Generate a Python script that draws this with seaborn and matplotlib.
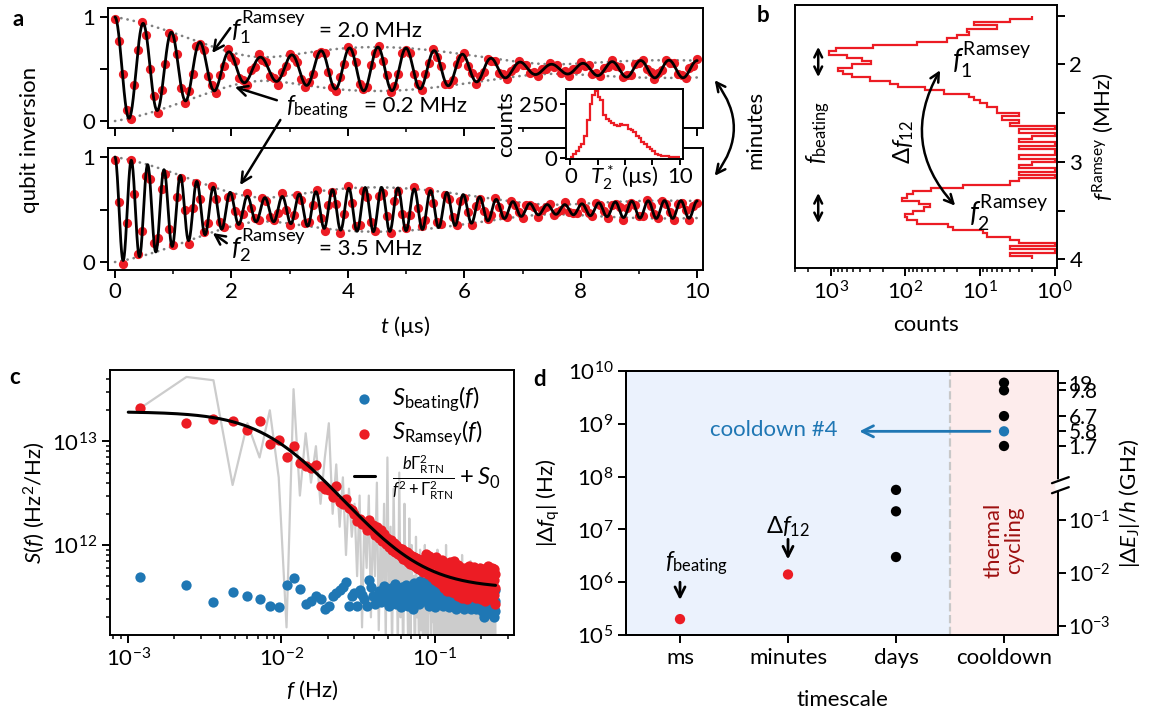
import numpy as np
import matplotlib
matplotlib.use("Agg")
import matplotlib.pyplot as plt
import seaborn as sns
from matplotlib.patches import FancyArrowPatch
from matplotlib.ticker import FixedLocator, FixedFormatter, NullLocator, LogLocator

# ---------------- panel a: Ramsey traces ----------------
t_us = np.arange(151) / 15.0   # sampling grid (µs)
ramsey_top = [
    0.98, 0.77, 0.45, 0.11, 0.02, 0.35, 0.68, 0.95, 0.83, 0.50, 0.24, 0.08, 0.30, 0.55, 0.85,
    0.80, 0.64, 0.32, 0.17, 0.29, 0.45, 0.72, 0.74, 0.68, 0.43, 0.35, 0.27, 0.44, 0.53, 0.69,
    0.62, 0.58, 0.41, 0.39, 0.35, 0.49, 0.52, 0.64, 0.59, 0.57, 0.43, 0.41, 0.35, 0.47, 0.53,
    0.64, 0.61, 0.57, 0.40, 0.33, 0.38, 0.45, 0.64, 0.66, 0.65, 0.47, 0.33, 0.29, 0.42, 0.55,
    0.71, 0.66, 0.57, 0.36, 0.31, 0.33, 0.54, 0.65, 0.72, 0.58, 0.44, 0.28, 0.34, 0.45, 0.65,
    0.68, 0.65, 0.45, 0.36, 0.30, 0.45, 0.56, 0.69, 0.62, 0.53, 0.36, 0.36, 0.39, 0.55, 0.61,
    0.65, 0.53, 0.46, 0.36, 0.43, 0.47, 0.60, 0.58, 0.58, 0.46, 0.45, 0.40, 0.48, 0.51, 0.58,
    0.54, 0.54, 0.46, 0.47, 0.43, 0.50, 0.50, 0.56, 0.52, 0.54, 0.46, 0.48, 0.43, 0.50, 0.50,
    0.57, 0.53, 0.54, 0.45, 0.46, 0.43, 0.51, 0.52, 0.59, 0.53, 0.52, 0.42, 0.44, 0.44, 0.55,
    0.56, 0.59, 0.50, 0.47, 0.40, 0.46, 0.49, 0.59, 0.56, 0.56, 0.45, 0.44, 0.41, 0.51, 0.53, 0.60]
ramsey_bot = [
    0.97, 0.57, -0.02, 0.37, 0.97, 0.65, 0.08, 0.30, 0.82, 0.79, 0.18, 0.23, 0.70, 0.84, 0.31,
    0.16, 0.62, 0.80, 0.50, 0.17, 0.51, 0.75, 0.60, 0.29, 0.37, 0.72, 0.60, 0.38, 0.33, 0.62,
    0.63, 0.49, 0.35, 0.46, 0.66, 0.51, 0.42, 0.40, 0.61, 0.58, 0.43, 0.40, 0.47, 0.66, 0.50,
    0.35, 0.45, 0.64, 0.59, 0.37, 0.38, 0.54, 0.69, 0.42, 0.30, 0.54, 0.67, 0.55, 0.28, 0.46,
    0.72, 0.56, 0.34, 0.35, 0.68, 0.62, 0.38, 0.30, 0.63, 0.66, 0.44, 0.28, 0.58, 0.68, 0.46,
    0.32, 0.45, 0.71, 0.51, 0.34, 0.40, 0.68, 0.56, 0.38, 0.36, 0.64, 0.60, 0.43, 0.35, 0.58,
    0.61, 0.48, 0.35, 0.53, 0.60, 0.49, 0.41, 0.45, 0.61, 0.52, 0.45, 0.43, 0.58, 0.54, 0.48,
    0.42, 0.54, 0.54, 0.52, 0.43, 0.50, 0.52, 0.55, 0.45, 0.48, 0.50, 0.57, 0.48, 0.47, 0.47,
    0.57, 0.51, 0.47, 0.44, 0.56, 0.54, 0.49, 0.42, 0.54, 0.55, 0.52, 0.40, 0.51, 0.56, 0.54,
    0.44, 0.44, 0.59, 0.53, 0.46, 0.42, 0.58, 0.55, 0.48, 0.40, 0.55, 0.56, 0.50, 0.40, 0.53, 0.56]
# two-tone fit parameters
F1_MHZ, F2_MHZ, FBEAT_MHZ = 2.0, 3.5, 0.2
AMP_MAIN, AMP_SIDE, T_DECAY = 0.34, 0.16, 5.5

# inset: T2* histogram
t2_edges = np.arange(0, 10.01, 0.25)
t2_counts = [5, 18, 30, 50, 62, 100, 175, 250, 290, 308, 280, 265, 200, 180, 170, 160,
             150, 145, 158, 150, 154, 135, 128, 120, 100, 90, 75, 62, 50, 40, 30, 20,
             14, 11, 9, 8, 6, 5, 4, 3]

# ---------------- panel b: histogram of f_Ramsey ----------------
fr_edges = np.linspace(1.5, 4.0, 76)
fr_counts = [2, 4, 12, 6, 15, 14, 20, 28, 70, 270,
             850, 1050, 600, 380, 290, 520, 800, 680, 520, 300,
             160, 125, 55, 30, 14, 12, 10, 8, 6, 6,
             3, 5, 3, 4, 1, 3, 1, 2, 3, 1,
             3, 1, 1, 3, 1, 2, 3, 1, 3, 1,
             3, 4, 17, 45, 80, 95, 110, 65, 47, 57,
             80, 102, 95, 70, 27, 23, 9, 8, 4, 3,
             1, 4, 1, 4, 2]

# ---------------- panel c: noise spectra (units of 1e11 Hz^2/Hz) ----------------
f_hz = 0.0012 * np.arange(1, 209)
s_ramsey = [
    212, 152, 166, 156, 128, 156, 94, 104, 70, 90,
    62, 58, 55, 59, 37, 35, 34, 29, 37, 26,
    25, 28, 23, 22, 20, 17, 18, 16, 16, 14,
    17.5, 14.0, 15.5, 12.6, 15.0, 11.8, 13.9, 11.0, 12.8, 10.2,
    11.8, 9.6, 11.2, 8.9, 10.5, 8.6, 10.0, 8.1, 9.4, 7.8,
    9.1, 7.4, 8.8, 7.1, 8.5, 6.8, 8.2, 6.6, 7.9, 6.4,
    7.7, 6.2, 7.5, 6.0, 7.3, 5.8, 7.1, 5.7, 6.9, 5.5,
    7.4, 5.6, 8.2, 5.9, 7.0, 5.2, 7.8, 5.5, 6.6, 4.9,
    7.3, 5.0, 6.8, 4.6, 7.6, 5.3, 6.4, 4.4, 7.0, 5.1,
    6.3, 4.2, 7.2, 4.8, 5.9, 3.8, 6.7, 4.6, 5.5, 3.6,
    6.5, 4.5, 5.8, 3.9, 6.9, 4.3, 5.4, 3.5, 6.2, 4.7,
    7.0, 4.0, 5.6, 3.4, 6.0, 4.4, 5.2, 3.2, 6.4, 4.1,
    5.5, 3.7, 6.1, 4.2, 5.0, 3.1, 5.8, 4.5, 4.0, 5.3,
    3.4, 6.0, 4.3, 4.9, 3.0, 5.6, 3.9, 5.1, 3.6, 6.3,
    4.2, 3.3, 5.4, 4.8, 3.8, 5.9, 3.2, 4.6, 5.2, 3.5,
    6.1, 4.0, 3.6, 5.0, 4.4, 3.1, 5.7, 3.9, 4.7, 3.3,
    5.5, 4.1, 3.4, 6.0, 3.8, 4.9, 3.0, 5.3, 4.3, 3.6,
    5.8, 3.9, 4.6, 3.2, 5.1, 4.4, 2.9, 5.6, 3.7, 4.8,
    3.3, 5.2, 4.0, 3.5, 6.2, 3.8, 4.5, 3.0, 5.0, 4.2,
    3.4, 5.7, 4.1, 3.6, 5.4, 4.7, 3.1, 6.0, 4.4, 3.5,
    5.1, 4.0, 3.3, 5.9, 4.6, 3.8, 5.3, 2.7]
s_beating = [
    4.9, 4.1, 2.8, 3.5, 3.2, 3.0, 2.6, 2.5, 4.1, 4.8,
    3.75, 2.7, 2.9, 3.2, 3.0, 2.4, 2.6, 3.2, 3.4, 3.7,
    3.9, 4.4, 2.6, 3.2, 3.4, 2.6, 3.7, 3.3, 3.0, 2.6,
    4.6, 3.9, 3.2, 2.7, 3.1, 3.6, 2.8, 3.3, 4.0, 2.9,
    3.5, 2.6, 3.8, 3.1, 3.4, 4.2, 2.7, 3.0, 3.6, 2.5,
    3.9, 3.3, 2.8, 4.1, 3.2, 2.6, 3.7, 3.0, 3.5, 2.4,
    4.3, 3.1, 2.9, 3.8, 3.4, 2.7, 4.5, 3.9, 3.2, 4.2,
    2.9, 3.6, 4.4, 3.0, 3.8, 4.1, 2.6, 3.4, 3.9, 2.8,
    4.3, 3.2, 3.7, 2.5, 3.5, 3.0, 3.9, 2.7, 3.3, 4.0,
    2.9, 3.6, 3.1, 2.6, 3.8, 3.2, 2.8, 3.5, 4.1, 2.7,
    3.3, 3.0, 3.7, 2.5, 3.4, 3.9, 2.9, 3.2, 2.6, 3.6,
    3.0, 4.0, 2.8, 3.3, 2.4, 3.5, 3.1, 2.7, 3.8, 3.0,
    2.6, 3.4, 2.9, 3.6, 2.5, 3.2, 2.8, 3.7, 3.0, 2.4,
    3.3, 2.9, 3.5, 2.7, 3.1, 2.6, 3.4, 3.0, 2.5, 3.6,
    2.8, 3.2, 2.4, 3.3, 2.9, 3.0, 2.6, 3.5, 2.8, 3.1,
    2.5, 3.3, 2.7, 3.0, 2.4, 3.4, 2.9, 2.6, 3.2, 2.8,
    2.5, 3.1, 2.7, 3.5, 2.6, 2.9, 3.2, 2.4, 3.0, 2.7,
    2.3, 3.3, 2.8, 2.6, 2.0, 3.0, 2.5, 2.8, 3.1, 2.4,
    2.7, 3.2, 2.6, 2.9, 2.3, 2.8, 3.0, 2.5, 2.7, 3.3,
    2.6, 2.4, 2.9, 3.1, 2.2, 2.7, 3.0, 2.5, 2.8, 2.1,
    2.6, 3.2, 2.4, 2.0, 2.7, 2.9, 2.3, 3.7]
s_raw = [
    210, 420, 390, 38, 150, 70, 200, 45, 1.6, 320,
    30, 120, 40, 90, 25, 70, 150, 20, 60, 15,
    45, 8, 35, 12, 25, 5, 30, 1.6, 18, 6,
    30, 2, 18, 5, 40, 1.5, 12, 3, 25, 1.2,
    70, 2.5, 15, 0.9, 35, 4, 9, 1.0, 50, 2.0,
    8, 0.7, 25, 3.0, 6, 1.1, 18, 0.8, 10, 2.5,
    5, 0.6, 12, 2.0, 4, 0.9, 9, 1.5, 6, 0.7,
    3.5, 10, 1.2, 5, 0.8, 7, 2.2, 4, 0.6, 8,
    1.8, 4.5, 0.9, 6, 2.5, 0.7, 9, 1.4, 3.8, 0.8,
    5.5, 2.0, 7, 0.6, 4, 1.6, 3, 0.9, 10, 1.2,
    4.5, 0.7, 6, 2.3, 3.2, 0.8, 5, 1.5, 7.5, 0.9,
    3.5, 1.8, 5.5, 0.6, 4.2, 2.5, 1.0, 6.5, 1.3, 3.8,
    0.7, 5, 2, 4, 0.9, 8, 1.6, 3, 0.6, 4.8,
    1.4, 3.6, 0.8, 6, 2.2, 0.7, 4.4, 1.8, 5.2, 0.9,
    3.2, 1.2, 7, 0.6, 4, 2.6, 0.8, 5.5, 1.5, 3.4,
    0.7, 6.2, 1.9, 3.8, 0.9, 4.6, 2.4, 0.6, 5.8, 1.3,
    3.0, 0.8, 4.5, 2.0, 6.5, 0.7, 3.6, 1.6, 4.8, 0.9,
    2.8, 5.2, 1.1, 3.9, 0.6, 4.3, 2.1, 0.8, 5.6, 1.4,
    3.3, 0.7, 4.0, 1.8, 6.0, 0.9, 2.9, 4.4, 0.6, 3.5,
    1.5, 5.0, 0.8, 3.2, 2.2, 0.7, 4.6, 1.2, 3.7, 0.9,
    5.4, 1.7, 0.6, 3.4, 2.5, 0.8, 4.1, 1.3]
S_UNIT = 1e11
FIT_B, FIT_GAMMA, FIT_S0 = 1.9e13, 0.0095, 3.8e11

# ---------------- panel d: frequency shifts per timescale ----------------
timescales = ["ms", "minutes", "days", "cooldown"]
d_scale = ["ms", "minutes", "days", "days", "days",
           "cooldown", "cooldown", "cooldown", "cooldown", "cooldown"]
d_shift_hz = [2.0e5, 1.4e6, 3.0e6, 2.2e7, 5.6e7, 3.8e8, 7.2e8, 1.4e9, 4.3e9, 6.0e9]
d_kind = ["fast", "fast", "other", "other", "other", "other", "cd4", "other", "other", "other"]
ej_ticks_hz = [6.0e9, 4.3e9, 1.4e9, 7.2e8, 3.8e8, 1.5e7, 1.48e6, 1.49e5]
ej_labels = ["19", "9.8", "6.7", "5.8", "1.7", r"$10^{-1}$", r"$10^{-2}$", r"$10^{-3}$"]

RED = "#ec1c24"
BLUE = "#1f77b4"

sns.set_style("ticks", rc={"axes.edgecolor": "black", "text.color": "black",
                           "xtick.color": "black", "ytick.color": "black",
                           "axes.labelcolor": "black"})
plt.rcParams["font.family"] = ["Lato", "DejaVu Sans"]
plt.rcParams["mathtext.fontset"] = "custom"
plt.rcParams["mathtext.rm"] = "Lato"
plt.rcParams["mathtext.it"] = "Lato:italic"
plt.rcParams["mathtext.bf"] = "Lato:bold"
plt.rcParams["mathtext.fallback"] = "stixsans"
plt.rcParams.update({"font.size": 16, "axes.labelsize": 16, "xtick.labelsize": 16,
                     "ytick.labelsize": 16, "axes.linewidth": 1.4,
                     "xtick.major.width": 1.4, "ytick.major.width": 1.4,
                     "xtick.major.size": 5.5, "ytick.major.size": 5.5,
                     "xtick.minor.size": 3, "ytick.minor.size": 3,
                     "xtick.minor.width": 1.1, "ytick.minor.width": 1.1,
                     "xtick.direction": "out", "ytick.direction": "out"})

W, H = 1160, 720
fig = plt.figure(figsize=(W / 100, H / 100), dpi=100)


def box(l, t, r, b):
    return fig.add_axes([l / W, 1 - b / H, (r - l) / W, (b - t) / H])


def fxy(px, py):
    return (px / W, 1 - py / H)


ax_a1 = box(108, 8, 703, 128)
ax_a2 = box(108, 148, 703, 270)
ax_in = box(566, 89, 683, 159)
ax_b = box(795, 5, 1057, 268)
ax_c = box(110, 370, 514, 635)
ax_d = box(626, 371, 1058, 635)

# ---- panel a ----
t_fine = np.linspace(0, 10, 3000)
for ax, vals, f0, ylim in [(ax_a1, ramsey_top, F1_MHZ, (-0.067, 1.087)),
                           (ax_a2, ramsey_bot, F2_MHZ, (-0.076, 1.086))]:
    decay = np.exp(-t_fine / T_DECAY)
    env = decay * np.sqrt(AMP_MAIN**2 + AMP_SIDE**2 +
                          2 * AMP_MAIN * AMP_SIDE * np.cos(2 * np.pi * FBEAT_MHZ * t_fine))
    fit = 0.5 + decay * (AMP_MAIN * np.cos(2 * np.pi * f0 * t_fine) +
                         AMP_SIDE * np.cos(2 * np.pi * (f0 + FBEAT_MHZ) * t_fine))
    for sgn in (1, -1):
        ax.plot(t_fine, 0.5 + sgn * env, color="#808080", lw=1.9,
                ls=(0, (0.1, 2.3)), dash_capstyle="round", zorder=1)
    sns.scatterplot(x=t_us, y=vals, color=RED, s=44, linewidth=0, ax=ax, zorder=2)
    sns.lineplot(x=t_fine, y=fit, color="k", linewidth=2.0, ax=ax, zorder=3, estimator=None)
    ax.set_xlim(-0.12, 10.1)
    ax.set_ylim(*ylim)
    ax.set_xticks([0, 2, 4, 6, 8, 10])
    ax.set_xticks(range(11), minor=True)
    ax.set_yticks([0, 0.5, 1])
    ax.set_yticklabels(["0", "", "1"])
ax_a1.set_xticklabels([])
ax_a2.set_xlabel(r"$t$ (µs)", labelpad=8)
fig.text(30 / W, 1 - 140 / H, "qubit inversion", rotation=90, ha="center", va="center", fontsize=16)

ax_a1.text(2.0, 0.80, r"$f_1^{\mathrm{Ramsey}}$", ha="left", va="baseline", fontsize=19)
ax_a1.text(3.5, 0.81, "= 2.0 MHz", ha="left", va="baseline", fontsize=16)
ax_a1.text(2.94, 0.087, r"$f_{\mathrm{beating}}$", ha="left", va="baseline", fontsize=17)
ax_a1.text(4.28, 0.087, "= 0.2 MHz", ha="left", va="baseline", fontsize=16)
ax_a2.text(2.0, 0.06, r"$f_2^{\mathrm{Ramsey}}$", ha="left", va="baseline", fontsize=19)
ax_a2.text(3.5, 0.067, "= 3.5 MHz", ha="left", va="baseline", fontsize=16)
arrow_kw = dict(arrowstyle="->", lw=1.8, color="k", shrinkA=0, shrinkB=0, mutation_scale=18)
ax_a1.annotate("", xy=(1.67, 0.654), xytext=(1.98, 0.894), arrowprops=arrow_kw)
ax_a1.annotate("", xy=(2.06, 0.327), xytext=(2.78, 0.20), arrowprops=arrow_kw)
ax_a2.annotate("", xy=(2.15, 0.733), xytext=(2.84, 0.01), textcoords=ax_a1.transData,
               arrowprops=arrow_kw)
ax_a2.annotate("", xy=(1.68, 0.276), xytext=(1.92, 0.18), arrowprops=arrow_kw)

# inset
ax_in.set_zorder(5)
ax_in.stairs(t2_counts, t2_edges, baseline=None, color=RED, lw=1.6)
ax_in.set_xlim(-0.4, 10.3)
ax_in.set_ylim(-5, 318)
ax_in.set_xticks([0, 2.5, 5, 7.5, 10])
ax_in.set_xticklabels(["0", "", "", "", "10"])
ax_in.set_yticks([0, 250])
ax_in.tick_params(length=4, pad=2)
ax_in.set_ylabel("counts", labelpad=2)
ax_in.yaxis.label.set_bbox(dict(facecolor="white", edgecolor="none", pad=1))
ax_in.text(0.5, -0.06, r"$T_2^*$ (µs)", transform=ax_in.transAxes, ha="center", va="top", fontsize=16)

# minutes arrow between a and b
fig.patches.append(FancyArrowPatch(fxy(713, 78), fxy(713, 178), transform=fig.transFigure,
                                   connectionstyle="arc3,rad=-0.4", arrowstyle="<->",
                                   mutation_scale=16, lw=1.8, color="k"))
fig.text(755 / W, 1 - 130 / H, "minutes", rotation=90, ha="center", va="center", fontsize=16)

# ---- panel b ----
ax_b.stairs(fr_counts, fr_edges, orientation="horizontal", baseline=None, color=RED, lw=1.6)
ax_b.set_xscale("log")
ax_b.set_xlim(3000, 0.93)
ax_b.xaxis.set_major_locator(LogLocator(base=10, numticks=12))
ax_b.xaxis.set_minor_locator(LogLocator(base=10, subs=np.arange(2, 10), numticks=12))
ax_b.set_ylim(4.09, 1.39)
ax_b.yaxis.set_major_locator(FixedLocator([1.5, 2, 2.5, 3, 3.5, 4]))
ax_b.yaxis.set_major_formatter(FixedFormatter(["", "2", "", "3", "", "4"]))
ax_b.tick_params(axis="y", left=False, labelleft=False, right=True, labelright=True)
ax_b.yaxis.set_label_position("right")
ax_b.set_ylabel(r"$f^{\mathrm{Ramsey}}$ (MHz)", labelpad=6)
ax_b.set_xlabel("counts", labelpad=8)
dbl = dict(arrowstyle="<->", lw=1.8, color="k", shrinkA=0, shrinkB=0, mutation_scale=14)
ax_b.annotate("", xy=(1466, 2.13), xytext=(1466, 1.82), arrowprops=dbl)
ax_b.annotate("", xy=(1466, 3.63), xytext=(1466, 3.32), arrowprops=dbl)
ax_b.text(1466, 2.70, r"$f_{\mathrm{beating}}$", rotation=90, ha="center", va="center", fontsize=17)
ax_b.text(106, 2.80, r"$\Delta f_{12}$", rotation=90, ha="center", va="center", fontsize=17)
ax_b.annotate("", xy=(21.5, 3.45), xytext=(34.2, 2.06),
              arrowprops=dict(arrowstyle="<->", lw=1.8, color="k", shrinkA=0, shrinkB=0,
                              mutation_scale=16, connectionstyle="arc3,rad=0.36"))
ax_b.text(23.8, 2.06, r"$f_1^{\mathrm{Ramsey}}$", ha="left", va="baseline", fontsize=20)
ax_b.text(14.2, 3.63, r"$f_2^{\mathrm{Ramsey}}$", ha="left", va="baseline", fontsize=20)

# ---- panel c ----
s_fit = FIT_B * FIT_GAMMA**2 / (np.geomspace(1e-3, 0.25, 400)**2 + FIT_GAMMA**2) + FIT_S0
sns.lineplot(x=f_hz, y=np.array(s_raw) * S_UNIT, color="#cccccc", linewidth=1.6,
             ax=ax_c, zorder=1, estimator=None)
sns.scatterplot(x=f_hz, y=np.array(s_beating) * S_UNIT, color=BLUE, s=55, linewidth=0,
                ax=ax_c, zorder=2, label=r"$S_{\mathrm{beating}}(f)$")
sns.scatterplot(x=f_hz, y=np.array(s_ramsey) * S_UNIT, color=RED, s=55, linewidth=0,
                ax=ax_c, zorder=3, label=r"$S_{\mathrm{Ramsey}}(f)$")
sns.lineplot(x=np.geomspace(1e-3, 0.25, 400), y=s_fit, color="k", linewidth=2.2, ax=ax_c,
             zorder=4, estimator=None,
             label=r"$\frac{b\Gamma_{\mathrm{RTN}}^2}{f^2+\Gamma_{\mathrm{RTN}}^2}+S_0$")
ax_c.set_xscale("log")
ax_c.set_yscale("log")
ax_c.set_xlim(7.6e-4, 0.33)
ax_c.set_ylim(1.35e11, 4.9e13)
ax_c.set_xlabel(r"$f$ (Hz)", labelpad=6)
ax_c.set_ylabel(r"$S(f)$ (Hz$^2$/Hz)")
ax_c.legend(loc="upper right", frameon=False, fontsize=17, handlelength=0.9,
            handletextpad=0.7, labelspacing=0.2, borderaxespad=0.2)

# ---- panel d ----
pos = [timescales.index(s) for s in d_scale]
ax_d.axvspan(-0.5, 2.5, color="#ebf2fd", lw=0, zorder=0)
ax_d.axvspan(2.5, 3.5, color="#fdecec", lw=0, zorder=0)
ax_d.axvline(2.5, color="#c8c8c8", ls="--", lw=1.6, zorder=1)
sns.scatterplot(x=pos, y=d_shift_hz, hue=d_kind, palette={"fast": RED, "other": "k", "cd4": BLUE},
                s=55, linewidth=0, legend=False, ax=ax_d, zorder=3)
ax_d.set_yscale("log")
ax_d.set_ylim(1e5, 1e10)
ax_d.set_xlim(-0.5, 3.5)
ax_d.yaxis.set_major_locator(LogLocator(base=10, numticks=12))
ax_d.yaxis.set_minor_locator(NullLocator())
ax_d.set_xticks(range(4))
ax_d.set_xticklabels(timescales)
ax_d.set_xlabel("timescale", labelpad=16)
ax_d.set_ylabel(r"$|\Delta f_{\mathrm{q}}|$ (Hz)")
ax_d.text(0.87, 7.6e8, "cooldown #4", color=BLUE, ha="center", va="center", fontsize=16)
ax_d.annotate("", xy=(1.66, 7.2e8), xytext=(2.87, 7.2e8),
              arrowprops=dict(arrowstyle="->", lw=2, color=BLUE, shrinkA=0, shrinkB=0,
                              mutation_scale=20))
ax_d.text(0.15, 2.35e6, r"$f_{\mathrm{beating}}$", ha="center", va="center", fontsize=17)
ax_d.annotate("", xy=(0, 4.6e5), xytext=(0, 1.0e6), arrowprops=dict(arrowstyle="->", lw=2,
              color="k", shrinkA=0, shrinkB=0, mutation_scale=18))
ax_d.text(1.0, 1.12e7, r"$\Delta f_{12}$", ha="center", va="center", fontsize=17)
ax_d.annotate("", xy=(1.0, 2.7e6), xytext=(1.0, 6.5e6), arrowprops=dict(arrowstyle="->", lw=2,
              color="k", shrinkA=0, shrinkB=0, mutation_scale=18))
ax_d.text(3.0, 6.3e6, "thermal\ncycling", rotation=90, ha="center", va="center",
          color="#9e1010", fontsize=16, linespacing=1.0)

ax_d2 = ax_d.twinx()
ax_d2.set_yscale("log")
ax_d2.set_ylim(1e5, 1e10)
ax_d2.yaxis.set_major_locator(FixedLocator(ej_ticks_hz))
ax_d2.yaxis.set_major_formatter(FixedFormatter(ej_labels))
ax_d2.yaxis.set_minor_locator(NullLocator())
ax_d2.tick_params(axis="y", labelsize=15, pad=2)
ax_d2.set_ylabel(r"$|\Delta E_{\mathrm{J}}|/h$ (GHz)")
ax_d2.plot([1, 1], [0.555, 0.578], transform=ax_d2.transAxes, color="white", lw=4,
           clip_on=False, zorder=10)
for y0 in (0.575, 0.537):
    ax_d2.plot([0.986, 1.025], [y0, y0 + 0.023], transform=ax_d2.transAxes, color="k",
               lw=1.6, clip_on=False, zorder=11)

# panel letters
for lbl, px, py in [("a", 18, 20), ("b", 763, 15), ("c", 15, 378), ("d", 540, 380)]:
    fig.text(px / W, 1 - py / H, lbl, fontweight="bold", fontsize=16, ha="center", va="center")

fig.savefig("out.png", dpi=100)
